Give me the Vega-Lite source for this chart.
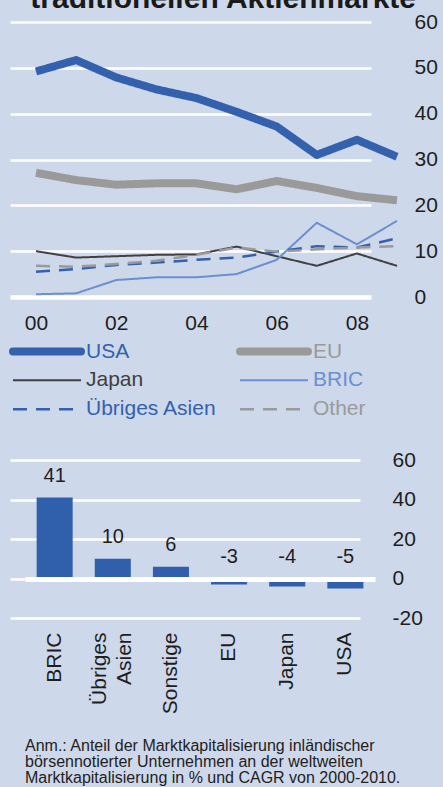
{
  "$schema": "https://vega.github.io/schema/vega-lite/v6.json",
  "autosize": {"type": "none"},
  "padding": {"left": 10, "top": 22, "right": 433, "bottom": 765},
  "background": "#cdd8ea",
  "bounds": "flush",
  "spacing": 163,
  "config": {
    "view": {"stroke": null},
    "font": "Liberation Sans",
    "axis": {"labelFont": "Liberation Sans", "labelFontSize": 21, "labelColor": "#1e1e1e", "domain": false, "ticks": false, "title": null},
    "legend": {"labelFont": "Liberation Sans"},
    "title": {"font": "Liberation Sans"}
  },
  "title": {"text": "traditionellen Aktienmärkte", "fontSize": 30, "fontWeight": "bold", "color": "#1a1a1a", "anchor": "middle", "dy": 7},
  "vconcat": [
    {
      "width": 387,
      "height": 275,
      "data": {"values": [
        {"year": 2000, "series": "USA", "value": 49.2},
        {"year": 2001, "series": "USA", "value": 51.7},
        {"year": 2002, "series": "USA", "value": 47.9},
        {"year": 2003, "series": "USA", "value": 45.3},
        {"year": 2004, "series": "USA", "value": 43.4},
        {"year": 2005, "series": "USA", "value": 40.4},
        {"year": 2006, "series": "USA", "value": 37.2},
        {"year": 2007, "series": "USA", "value": 31.0},
        {"year": 2008, "series": "USA", "value": 34.3},
        {"year": 2009, "series": "USA", "value": 30.6},
        {"year": 2000, "series": "EU", "value": 27.1},
        {"year": 2001, "series": "EU", "value": 25.5},
        {"year": 2002, "series": "EU", "value": 24.5},
        {"year": 2003, "series": "EU", "value": 24.8},
        {"year": 2004, "series": "EU", "value": 24.8},
        {"year": 2005, "series": "EU", "value": 23.5},
        {"year": 2006, "series": "EU", "value": 25.3},
        {"year": 2007, "series": "EU", "value": 23.8},
        {"year": 2008, "series": "EU", "value": 22.0},
        {"year": 2009, "series": "EU", "value": 21.1},
        {"year": 2000, "series": "Japan", "value": 10.0},
        {"year": 2001, "series": "Japan", "value": 8.6},
        {"year": 2002, "series": "Japan", "value": 8.9},
        {"year": 2003, "series": "Japan", "value": 9.2},
        {"year": 2004, "series": "Japan", "value": 9.3},
        {"year": 2005, "series": "Japan", "value": 11.0},
        {"year": 2006, "series": "Japan", "value": 8.9},
        {"year": 2007, "series": "Japan", "value": 6.8},
        {"year": 2008, "series": "Japan", "value": 9.5},
        {"year": 2009, "series": "Japan", "value": 6.8},
        {"year": 2000, "series": "BRIC", "value": 0.6},
        {"year": 2001, "series": "BRIC", "value": 0.8},
        {"year": 2002, "series": "BRIC", "value": 3.7},
        {"year": 2003, "series": "BRIC", "value": 4.3},
        {"year": 2004, "series": "BRIC", "value": 4.3},
        {"year": 2005, "series": "BRIC", "value": 5.0},
        {"year": 2006, "series": "BRIC", "value": 8.1},
        {"year": 2007, "series": "BRIC", "value": 16.2},
        {"year": 2008, "series": "BRIC", "value": 11.5},
        {"year": 2009, "series": "BRIC", "value": 16.6},
        {"year": 2000, "series": "Übriges Asien", "value": 5.5},
        {"year": 2001, "series": "Übriges Asien", "value": 6.1},
        {"year": 2002, "series": "Übriges Asien", "value": 7.0},
        {"year": 2003, "series": "Übriges Asien", "value": 7.5},
        {"year": 2004, "series": "Übriges Asien", "value": 8.1},
        {"year": 2005, "series": "Übriges Asien", "value": 8.6},
        {"year": 2006, "series": "Übriges Asien", "value": 9.9},
        {"year": 2007, "series": "Übriges Asien", "value": 11.1},
        {"year": 2008, "series": "Übriges Asien", "value": 10.8},
        {"year": 2009, "series": "Übriges Asien", "value": 12.8},
        {"year": 2000, "series": "Other", "value": 6.8},
        {"year": 2001, "series": "Other", "value": 6.6},
        {"year": 2002, "series": "Other", "value": 7.2},
        {"year": 2003, "series": "Other", "value": 7.9},
        {"year": 2004, "series": "Other", "value": 9.2},
        {"year": 2005, "series": "Other", "value": 10.8},
        {"year": 2006, "series": "Other", "value": 9.9},
        {"year": 2007, "series": "Other", "value": 10.4},
        {"year": 2008, "series": "Other", "value": 10.8},
        {"year": 2009, "series": "Other", "value": 11.1}
      ]},
      "mark": {"type": "line", "strokeJoin": "round"},
      "encoding": {
        "x": {"field": "year", "type": "quantitative",
          "scale": {"domain": [2000, 2009], "range": [26, 387], "nice": false, "zero": false},
          "axis": {"values": [2000, 2002, 2004, 2006, 2008], "format": "d", "labelExpr": "substring(datum.label, 2)", "grid": false, "labelFlush": false, "labelPadding": 15}},
        "y": {"field": "value", "type": "quantitative",
          "scale": {"domain": [0, 60], "nice": false},
          "axis": {"orient": "right", "values": [0, 10, 20, 30, 40, 50, 60], "gridColor": "#ffffff",
            "gridWidth": {"condition": {"test": "datum.value === 0", "value": 4.5}, "value": 2.5},
            "gridOpacity": 1, "labelPadding": 17, "labelOverlap": false}},
        "color": {"field": "series", "type": "nominal",
          "scale": {"domain": ["USA", "EU", "Japan", "BRIC", "Übriges Asien", "Other"], "range": ["#3461ad", "#9a9a9a", "#404040", "#6b8fcf", "#3461ad", "#9a9a9a"]},
          "legend": {"orient": "none", "direction": "horizontal", "legendX": -1, "legendY": 315, "columns": 2, "columnPadding": 19, "rowPadding": 0, "clipHeight": 28.5, "symbolType": "stroke", "symbolSize": 4624, "labelOffset": 1, "labelFontSize": 21, "title": null,
            "encode": {"labels": {"update": {"fill": {"signal": "datum.value === 'USA' || datum.value === 'Übriges Asien' ? '#3461ad' : datum.value === 'BRIC' ? '#6b8fcf' : datum.value === 'Japan' ? '#404040' : '#9a9a9a'"}}},
                       "symbols": {"update": {"strokeCap": {"signal": "datum.value === 'USA' || datum.value === 'EU' ? 'round' : 'butt'"}}}}}},
        "strokeWidth": {"field": "series", "type": "nominal",
          "scale": {"type": "ordinal", "domain": ["USA", "EU", "Japan", "BRIC", "Übriges Asien", "Other"], "range": [8, 8, 2, 2, 2.5, 2.5]},
          "legend": {"orient": "none", "direction": "horizontal", "legendX": -1, "legendY": 315, "columns": 2, "columnPadding": 19, "rowPadding": 0, "clipHeight": 28.5, "symbolType": "stroke", "symbolSize": 4624, "labelOffset": 1, "labelFontSize": 21, "title": null}},
        "strokeDash": {"field": "series", "type": "nominal",
          "scale": {"domain": ["USA", "EU", "Japan", "BRIC", "Übriges Asien", "Other"], "range": [[1, 0], [1, 0], [1, 0], [1, 0], [14, 9], [14, 9]]},
          "legend": {"orient": "none", "direction": "horizontal", "legendX": -1, "legendY": 315, "columns": 2, "columnPadding": 19, "rowPadding": 0, "clipHeight": 28.5, "symbolType": "stroke", "symbolSize": 4624, "labelOffset": 1, "labelFontSize": 21, "title": null}}
      }
    },
    {
      "width": 365,
      "height": 158,
      "title": {"text": ["Anm.: Anteil der Marktkapitalisierung inländischer", "börsennotierter Unternehmen an der weltweiten", "Marktkapitalisierung in % und CAGR von 2000-2010."], "orient": "bottom", "anchor": "start", "fontSize": 16, "fontWeight": "normal", "lineHeight": 16.2, "dx": 15, "offset": 24, "color": "#222222"},
      "data": {"values": [
        {"region": "BRIC", "cagr": 41},
        {"region": "Übriges Asien", "cagr": 10},
        {"region": "Sonstige", "cagr": 6},
        {"region": "EU", "cagr": -3},
        {"region": "Japan", "cagr": -4},
        {"region": "USA", "cagr": -5}
      ]},
      "encoding": {
        "x": {"field": "region", "type": "nominal", "sort": null,
          "scale": {"range": [15, 365], "paddingInner": 0.38, "paddingOuter": 0.2},
          "axis": {"labelAngle": -90, "labelPadding": 14, "labelLineHeight": 25,
            "labelOffset": {"condition": {"test": "datum.value === 'Übriges Asien'", "value": -12.5}, "value": 0},
            "labelExpr": "datum.label === 'Übriges Asien' ? ['Übriges', 'Asien'] : datum.label"}}
      },
      "resolve": {"axis": {"y": "independent"}},
      "layer": [
        {"mark": {"type": "bar", "color": "#3060ac"},
         "encoding": {"y": {"field": "cagr", "type": "quantitative",
          "scale": {"domain": [-20, 60], "nice": false},
          "axis": {"orient": "right", "values": [-20, 0, 20, 40, 60], "gridColor": "#ffffff", "gridWidth": 2.5, "labelOverlap": false,
            "labelExpr": "toString(datum.value)", "labelPadding": 17}}}},
        {"transform": [{"filter": "datum.cagr > 0"}],
         "mark": {"type": "text", "dy": -16, "baseline": "alphabetic", "fontSize": 20, "color": "#1e1e1e"},
         "encoding": {"y": {"field": "cagr", "type": "quantitative",
           "axis": {"orient": "left", "values": [0], "labels": false, "grid": true, "gridColor": "#ffffff", "gridWidth": 5, "zindex": 1}},
           "text": {"field": "cagr"}}},
        {"transform": [{"filter": "datum.cagr < 0"}],
         "mark": {"type": "text", "dy": -16, "baseline": "alphabetic", "fontSize": 20, "color": "#1e1e1e"},
         "encoding": {"y": {"datum": 0, "type": "quantitative", "axis": null}, "text": {"field": "cagr"}}}
      ]
    }
  ]
}
